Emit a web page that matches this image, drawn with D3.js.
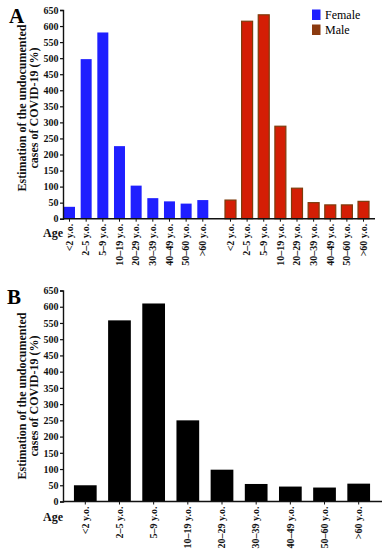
<!DOCTYPE html>
<html>
<head>
<meta charset="utf-8">
<script src="https://cdn.jsdelivr.net/npm/d3@7"></script>
<style>
  body { margin: 0; background: #fff; }
  svg text { font-family: "Liberation Serif", "Times New Roman", serif; }
</style>
</head>
<body>
<div id="chart"></div>
<script>
(function () {
	var width = 386;
	var height = 550;

	// data
	var ages = ["<2 y.o.", "2\u20135 y.o.", "5\u20139 y.o.", "10\u201319 y.o.", "20\u201329 y.o.",
	            "30\u201339 y.o.", "40\u201349 y.o.", "50\u201360 y.o.", ">60 y.o."];
	var female = [37, 497, 580, 226, 103, 64, 54, 47, 58];
	var male = [58, 615, 635, 288, 95, 50, 43, 43, 54];
	var overall = [50, 558, 610, 250, 98, 54, 46, 43, 55];
	var yTicks = d3.range(0, 651, 50);
	var legendItems = ["Female", "Male"];

	var serif = "Liberation Serif, Times New Roman, serif";
	var femaleColor = "#1f1fff";
	var maleColor = "#d41e05";
	var maleEdge = "#7d3c0c";

	var svg = d3.select("#chart")
	   .append("svg")
	   .attr("width", width)
	   .attr("height", height);

	// ---------- panel A ----------
	var yA = d3.scaleLinear().domain([0, 650]).range([218.7, 10]);
	var xF = d3.scaleBand().domain(ages).range([63, 209.3]).paddingInner(0.34).paddingOuter(0.06);
	var xM = d3.scaleBand().domain(ages).range([222, 372]).paddingInner(0.34).paddingOuter(0.18);

	var gA = svg.append("g");

	gA.selectAll(".fbar")
	  .data(female)
	  .enter().append("rect")
	  .attr("class", "fbar")
	  .attr("x", function (d, i) { return xF(ages[i]); })
	  .attr("y", function (d) { return yA(d); })
	  .attr("width", xF.bandwidth())
	  .attr("height", function (d) { return yA(0) - yA(d); })
	  .attr("fill", femaleColor);

	gA.selectAll(".mbar")
	  .data(male)
	  .enter().append("rect")
	  .attr("class", "mbar")
	  .attr("x", function (d, i) { return xM(ages[i]); })
	  .attr("y", function (d) { return yA(d); })
	  .attr("width", xM.bandwidth())
	  .attr("height", function (d) { return yA(0) - yA(d); })
	  .attr("fill", maleColor)
	  .attr("stroke", maleEdge)
	  .attr("stroke-width", 1.2);

	drawYAxis(gA, yA, 63);
	drawXAxis(gA, [xF, xM], yA(0), 63, 375);

	gA.append("text").attr("x", 9).attr("y", 23)
	  .attr("font-family", serif)
	  .attr("font-size", 21).attr("font-weight", "bold").text("A");

	yTitle(gA, 108);
	ageLabel(gA, yA(0) + 18);

	// legend
	var leg = gA.selectAll(".leg")
	  .data(legendItems)
	  .enter().append("g")
	  .attr("transform", function (d, i) { return "translate(312," + (9.5 + i * 15) + ")"; });
	leg.append("rect")
	  .attr("width", 8.5).attr("height", 10.5)
	  .attr("fill", function (d, i) { return i === 0 ? femaleColor : "#8b3a0f"; });
	leg.append("text")
	  .attr("x", 13).attr("y", 9.5)
	  .attr("font-family", serif)
	  .attr("font-size", 12)
	  .text(function (d) { return d; });

	// ---------- panel B ----------
	var yB = d3.scaleLinear().domain([0, 650]).range([501.5, 290.5]);
	var xB = d3.scaleBand().domain(ages).range([63, 381]).paddingInner(0.335).paddingOuter(0.32);

	var gB = svg.append("g");

	gB.selectAll(".bbar")
	  .data(overall)
	  .enter().append("rect")
	  .attr("class", "bbar")
	  .attr("x", function (d, i) { return xB(ages[i]); })
	  .attr("y", function (d) { return yB(d); })
	  .attr("width", xB.bandwidth())
	  .attr("height", function (d) { return yB(0) - yB(d); })
	  .attr("fill", "#000");

	drawYAxis(gB, yB, 63);
	drawXAxis(gB, [xB], yB(0), 63, 382);

	gB.append("text").attr("x", 7).attr("y", 304)
	  .attr("font-family", serif)
	  .attr("font-size", 21).attr("font-weight", "bold").text("B");

	yTitle(gB, 396);
	ageLabel(gB, yB(0) + 19);

	function drawYAxis(g, y, x0) {
	  var ax = g.append("g")
	    .attr("transform", "translate(" + x0 + ",0)")
	    .attr("font-family", serif)
	    .call(d3.axisLeft(y).tickValues(yTicks).tickSize(3).tickPadding(1.5));
	  ax.attr("font-family", serif);
	  ax.select(".domain").attr("stroke", "#111").attr("stroke-width", 1.4);
	  ax.selectAll(".tick line").attr("stroke", "#111").attr("stroke-width", 1.2);
	  ax.selectAll("text")
	    .attr("font-family", serif)
	    .attr("font-weight", "bold")
	    .attr("font-size", 10)
	    .attr("fill", "#111");
	}

	function drawXAxis(g, scales, y0, x0, x1) {
	  g.append("line")
	    .attr("x1", x0).attr("x2", x1)
	    .attr("y1", y0).attr("y2", y0)
	    .attr("stroke", "#111").attr("stroke-width", 1.4);
	  scales.forEach(function (sc) {
	    var t = g.append("g").selectAll("g")
	      .data(ages)
	      .enter().append("g")
	      .attr("transform", function (d) {
	        return "translate(" + (sc(d) + sc.bandwidth() / 2) + "," + y0 + ")";
	      });
	    t.append("line").attr("y2", 3).attr("stroke", "#111").attr("stroke-width", 1);
	    t.append("text")
	      .attr("transform", "rotate(-90)")
	      .attr("x", -5).attr("dy", "0.33em")
	      .attr("text-anchor", "end")
	      .attr("font-family", serif)
	      .attr("font-weight", "bold")
	      .attr("font-size", 10)
	      .attr("fill", "#111")
	      .text(function (d) { return d; });
	  });
	}

	function yTitle(g, cy) {
	  var t = g.append("text")
	    .attr("transform", "translate(22," + cy + ") rotate(-90)")
	    .attr("text-anchor", "middle")
	    .attr("font-family", serif)
	    .attr("font-weight", "bold")
	    .attr("font-size", 12)
	    .attr("fill", "#111");
	  t.append("tspan").attr("x", 0).attr("dy", "0.33em").text("Estimation of the undocumented");
	  t.append("tspan").attr("x", 0).attr("dy", "1em").text("cases of COVID-19 (%)");
	}

	function ageLabel(g, y) {
	  g.append("text")
	    .attr("x", 43).attr("y", y)
	    .attr("font-family", serif)
	    .attr("font-weight", "bold")
	    .attr("font-size", 12)
	    .attr("fill", "#111")
	    .text("Age");
	}
})();
</script>
</body>
</html>
